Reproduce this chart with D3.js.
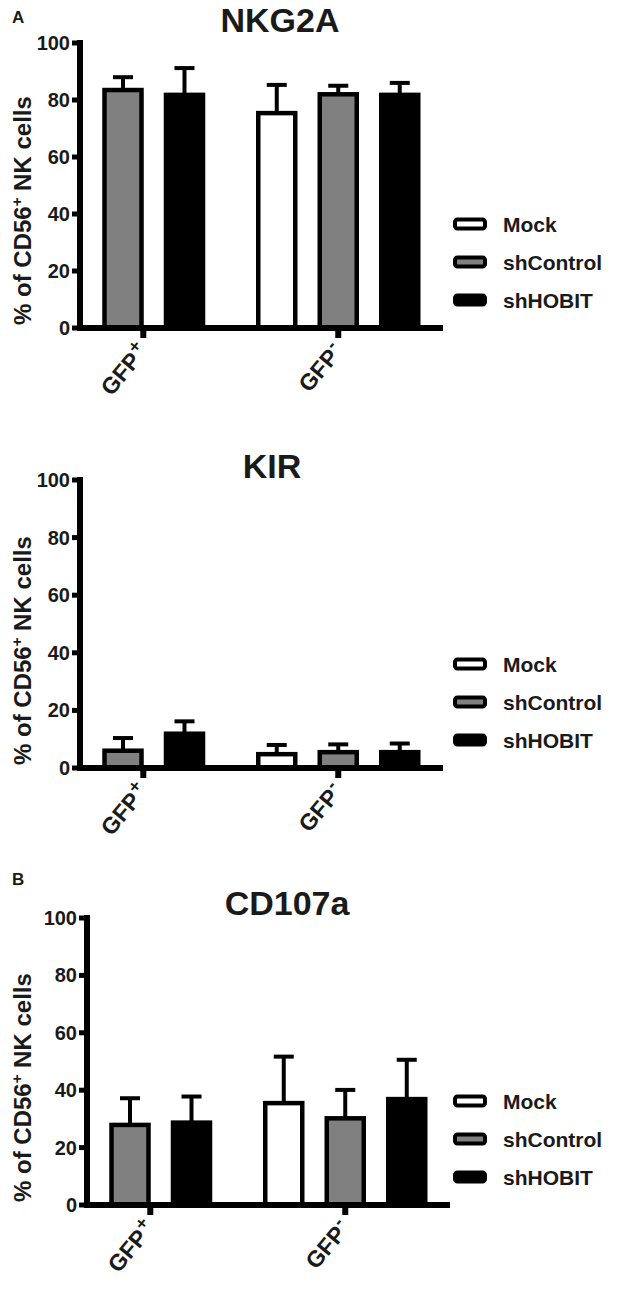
<!DOCTYPE html>
<html>
<head>
<meta charset="utf-8">
<script src="https://cdn.jsdelivr.net/npm/d3@7/dist/d3.min.js"></script>
<style>
  html, body { margin: 0; padding: 0; background: #fff; }
  svg { display: block; }
  text { font-family: "Liberation Sans", Arial, sans-serif; font-weight: bold; fill: #1a1a1a; }
</style>
</head>
<body>
<svg id="chart" width="641" height="1291"></svg>
<script>
// ---- data ----
const groups = ["GFP+", "GFP-"];
const series = ["Mock", "shControl", "shHOBIT"];
const yTicks = [0, 20, 40, 60, 80, 100];
const titles = ["NKG2A", "KIR", "CD107a"];
const panelLetters = ["A", "", "B"];

// mean values [group][series], null = not measured
const nkg2aMean = [[null, 83.5, 81.8], [75.4, 82.0, 81.8]];
const nkg2aErr  = [[null, 4.5, 9.4],   [9.9, 3.0, 4.2]];
const kirMean   = [[null, 6.0, 11.9],  [4.8, 5.5, 5.5]];
const kirErr    = [[null, 4.4, 4.3],   [3.2, 2.7, 3.0]];
const cd107Mean = [[null, 27.9, 28.7], [35.5, 30.2, 36.9]];
const cd107Err  = [[null, 9.3, 9.1],   [16.2, 9.9, 13.7]];

// ---- layout / style ----
const fills = { "Mock": "#ffffff", "shControl": "#808080", "shHOBIT": "#000000" };
const panels = [
  { title: titles[0], letter: panelLetters[0], mean: nkg2aMean, err: nkg2aErr, axisX: 80, y100: 43,  y0: 328,  titleY: 32,  titleX: 280, letterY: 23 },
  { title: titles[1], letter: panelLetters[1], mean: kirMean,   err: kirErr,   axisX: 80, y100: 480, y0: 768,  titleY: 478, titleX: 272, letterY: 0 },
  { title: titles[2], letter: panelLetters[2], mean: cd107Mean, err: cd107Err, axisX: 87, y100: 918, y0: 1205, titleY: 915, titleX: 287, letterY: 885 }
];
const groupTickSlot = [0.33, 3.5];

const svg = d3.select("#chart");

panels.forEach(p => {
  const g = svg.append("g");
  const y = d3.scaleLinear().domain([0, 100]).range([p.y0, p.y100]);
  const xs = d3.scaleLinear().domain([0, 1]).range([p.axisX + 43, p.axisX + 104.5]);

  // build bar list with slots
  const bars = [];
  let s = 0;
  groups.forEach((gr, gi) => {
    series.forEach((se, si) => {
      const v = p.mean[gi][si];
      if (v !== null && v !== undefined) {
        bars.push({ group: gr, series: se, value: v, err: p.err[gi][si], slot: s });
        s += 1;
      }
    });
    s += 0.5;
  });

  const barW = 37;

  // bars
  g.selectAll("rect.bar").data(bars).enter().append("rect")
    .attr("class", "bar")
    .attr("x", d => xs(d.slot) - barW / 2)
    .attr("y", d => y(d.value))
    .attr("width", barW)
    .attr("height", d => y(0) - y(d.value))
    .attr("fill", d => fills[d.series])
    .attr("stroke", "#000")
    .attr("stroke-width", 4.5);

  // error bars (upper only)
  g.selectAll("line.stem").data(bars).enter().append("line")
    .attr("x1", d => xs(d.slot)).attr("x2", d => xs(d.slot))
    .attr("y1", d => y(d.value)).attr("y2", d => y(d.value + d.err))
    .attr("stroke", "#000").attr("stroke-width", 4);
  g.selectAll("line.cap").data(bars).enter().append("line")
    .attr("x1", d => xs(d.slot) - 10).attr("x2", d => xs(d.slot) + 10)
    .attr("y1", d => y(d.value + d.err)).attr("y2", d => y(d.value + d.err))
    .attr("stroke", "#000").attr("stroke-width", 4);

  // y axis
  const yAxis = d3.axisLeft(y).tickValues(yTicks).tickSize(0).tickPadding(10);
  const ya = g.append("g").attr("transform", `translate(${p.axisX},0)`).call(yAxis);
  ya.select(".domain").remove();
  ya.selectAll("text").style("font-size", "20px").attr("fill", "#1a1a1a")
    .style("font-family", '"Liberation Sans", Arial, sans-serif').style("font-weight", "bold");
  g.append("line").attr("x1", p.axisX).attr("x2", p.axisX)
    .attr("y1", p.y100 - 3).attr("y2", p.y0 + 3)
    .attr("stroke", "#000").attr("stroke-width", 6);
  g.selectAll("line.ytick").data(yTicks).enter().append("line")
    .attr("x1", p.axisX - 8).attr("x2", p.axisX)
    .attr("y1", d => y(d)).attr("y2", d => y(d))
    .attr("stroke", "#000").attr("stroke-width", 5);

  // x axis
  g.append("line").attr("x1", p.axisX - 3).attr("x2", p.axisX + 363)
    .attr("y1", p.y0).attr("y2", p.y0)
    .attr("stroke", "#000").attr("stroke-width", 6);
  groups.forEach((gr, gi) => {
    const tx = xs(groupTickSlot[gi]);
    g.append("line").attr("x1", tx).attr("x2", tx)
      .attr("y1", p.y0).attr("y2", p.y0 + 10)
      .attr("stroke", "#000").attr("stroke-width", 6);
    const t = g.append("text")
      .attr("transform", `translate(${tx + 6},${p.y0 + 24}) rotate(-50)`)
      .attr("text-anchor", "end")
      .style("font-size", "23px");
    t.append("tspan").text(gr.slice(0, 3));
    t.append("tspan").attr("dx", 1).attr("dy", -9).style("font-size", "18px").text(gr.slice(3));
  });

  // y label
  const yl = g.append("text")
    .attr("transform", `translate(31,${p.y0 - 3}) rotate(-90)`)
    .attr("text-anchor", "start")
    .style("font-size", "24px");
  yl.append("tspan").text("% of CD56");
  yl.append("tspan").attr("dy", -9).style("font-size", "15px").text("+");
  yl.append("tspan").attr("dy", 9).text(" NK cells");

  // title
  g.append("text").attr("x", p.titleX).attr("y", p.titleY)
    .attr("text-anchor", "middle").style("font-size", "34px").text(p.title);

  if (p.letter) {
    g.append("text").attr("x", 12).attr("y", p.letterY)
      .style("font-size", "17px").text(p.letter);
  }

  // legend
  const leg = g.selectAll("g.leg").data(series).enter().append("g")
    .attr("transform", (d, i) => `translate(453,${p.y0 - 104 + i * 38})`);
  leg.append("rect").attr("x", 2).attr("y", -4.5).attr("width", 30).attr("height", 9)
    .attr("rx", 2.5)
    .attr("fill", d => fills[d]).attr("stroke", "#000").attr("stroke-width", 4);
  leg.append("text").attr("x", 50).attr("y", 0).attr("dy", "0.36em")
    .style("font-size", "21px").text(d => d);
});
</script>
</body>
</html>
